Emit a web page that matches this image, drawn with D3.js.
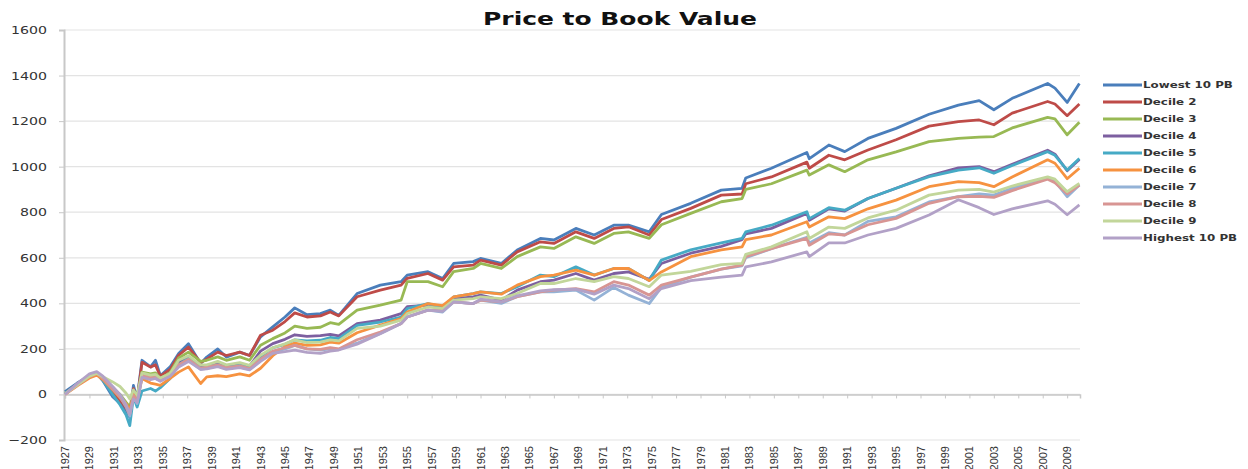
<!DOCTYPE html>
<html>
<head>
<meta charset="utf-8">
<script src="https://cdn.jsdelivr.net/npm/d3@7"></script>
<style>
  body { margin: 0; background: #fff; }
  svg { display: block; }
</style>
</head>
<body>
<script>
'use strict';
// chart values (decimal years)
const years = [1927.0, 1928.0, 1929.0, 1929.6, 1930.1, 1930.9, 1931.5, 1932.0, 1932.3, 1932.6, 1932.9, 1933.3,
  1934.0, 1934.4, 1934.8, 1935.6, 1936.3, 1937.1, 1938.1, 1938.6, 1939.5, 1940.2, 1941.3, 1942.1, 1943.0,
  1944.0, 1945.0, 1945.8, 1946.8, 1947.9, 1948.7, 1949.4, 1950.9, 1952.8, 1954.5, 1955.0, 1956.7, 1957.9,
  1958.8, 1960.4, 1961.0, 1962.7, 1964.0, 1965.9, 1967.0, 1968.8, 1970.3, 1971.9, 1973.1, 1974.8, 1975.8,
  1978.2, 1980.7, 1982.4, 1982.7, 1984.8, 1987.7, 1987.9, 1989.5, 1990.8, 1992.7, 1995.0, 1997.7, 2000.1,
  2001.8, 2003.0, 2004.5, 2007.4, 2008.0, 2009.0, 2010.0];

const lowest10 = [12,50,82,92,60,-10,-40,-70,-100,40,-20,150,121,150,82,121,180,223,136,164,200,164,186,171,253,297,340,380,350,355,370,347,443,480,495,524,539,509,575,583,597,575,634,685,678,729,700,743,743,714,790,839,897,905,950,993,1062,1035,1095,1066,1124,1168,1230,1270,1290,1250,1300,1365,1345,1282,1365];
const decile2 = [5,45,80,92,65,10,-25,-60,-90,25,-25,141,120,130,80,110,172,208,140,155,186,171,186,171,260,282,320,358,340,345,362,345,429,458,480,510,531,502,560,568,590,568,626,670,663,714,685,729,736,700,768,817,875,880,925,955,1020,993,1050,1030,1073,1118,1178,1198,1205,1184,1235,1286,1275,1224,1275];
const decile3 = [5,42,78,90,70,25,0,-35,-55,15,-15,98,90,95,70,95,160,186,145,150,165,150,165,150,216,245,270,300,290,295,315,308,370,392,414,495,495,473,539,553,575,553,605,648,641,692,663,707,714,685,745,795,846,860,900,925,985,963,1008,978,1030,1065,1110,1124,1130,1132,1170,1216,1210,1140,1195];
const decile4 = [3,45,82,95,72,20,-10,-45,-80,10,-30,90,80,85,65,88,140,164,125,125,140,125,135,125,190,223,242,262,255,258,264,257,311,326,355,385,392,375,420,428,436,414,458,495,502,531,502,531,538,505,575,620,650,680,705,729,795,765,815,805,860,905,960,995,1000,978,1010,1072,1055,982,1032];
const decile5 = [5,45,80,92,62,0,-45,-90,-137,-10,-55,15,26,15,30,70,130,160,115,118,130,118,128,118,165,205,220,240,235,238,250,245,303,318,340,377,399,384,428,443,450,443,473,524,517,560,524,553,553,500,590,635,665,685,714,743,802,772,820,809,860,905,956,985,995,971,1005,1066,1050,985,1036];
const decile6 = [0,38,72,85,65,20,-15,-40,-70,0,-30,70,50,45,40,70,98,121,48,77,82,78,90,82,115,170,210,225,215,218,230,225,271,304,333,362,399,390,428,443,450,440,480,517,524,546,524,553,553,500,538,605,635,648,680,700,758,735,780,772,815,853,912,934,930,912,955,1030,1015,947,993];
const decile7 = [2,45,82,95,72,25,-10,-55,-95,-10,-40,80,70,70,60,82,125,150,110,115,125,115,120,110,150,185,200,215,200,195,200,198,225,268,311,340,370,362,406,399,414,400,429,450,450,458,414,470,436,399,470,515,550,565,600,640,690,665,710,700,760,780,845,868,880,875,905,950,935,868,920];
const decile8 = [0,40,78,92,70,25,-10,-50,-85,-5,-30,85,75,75,62,85,130,155,115,120,130,118,125,115,155,190,205,215,200,198,205,200,240,274,311,340,370,370,406,399,414,406,429,450,458,465,450,495,480,436,480,515,550,568,605,640,685,655,705,700,745,773,839,868,870,865,895,945,930,881,919];
const decile9 = [2,42,80,93,78,55,35,5,-20,20,-5,95,85,88,72,92,150,170,130,130,145,130,140,128,172,205,222,240,228,230,240,235,290,300,326,355,384,377,414,421,428,421,443,487,487,509,495,517,509,473,524,540,570,575,615,648,714,685,735,729,775,809,875,897,900,888,915,955,945,890,927];
const highest10 = [0,48,90,100,80,35,0,-45,-85,-20,-35,75,65,70,58,80,120,145,110,112,122,110,118,108,145,180,188,195,185,180,190,195,221,267,311,340,370,365,406,399,418,406,433,455,460,462,440,480,465,420,465,500,515,524,560,582,626,605,665,665,700,729,788,855,820,790,815,850,835,789,832];

const seriesNames = ['Lowest 10 PB', 'Decile 2', 'Decile 3', 'Decile 4', 'Decile 5',
  'Decile 6', 'Decile 7', 'Decile 8', 'Decile 9', 'Highest 10 PB'];
const seriesValues = [lowest10, decile2, decile3, decile4, decile5, decile6, decile7, decile8, decile9, highest10];
const colors = ['#4a7ebb', '#be4b48', '#98b954', '#7d5fa0', '#46aac5', '#f69240',
  '#94b2d6', '#d89593', '#c2d69a', '#b2a1c7'];
const yTicks = [-200, 0, 200, 400, 600, 800, 1000, 1200, 1400, 1600];
const xLabels = d3.range(1927, 2010, 2);

(function () {
  const width = 1248, height = 469;
  const plotLeft = 65, plotRight = 1080, plotTop = 30, plotBottom = 440;
  const fontWide = 'DejaVu Sans, Verdana, sans-serif';

  const svg = d3.select('body').append('svg')
    .attr('width', width)
    .attr('height', height);

  const x = d3.scaleLinear().domain([1927, 2010.05]).range([plotLeft, plotRight]);
  const y = d3.scaleLinear().domain([-200, 1600]).range([plotBottom, plotTop]);

  // gridlines
  svg.append('g')
    .selectAll('line')
    .data(yTicks)
    .join('line')
    .attr('x1', plotLeft - 1).attr('x2', plotRight)
    .attr('y1', d => y(d)).attr('y2', d => y(d))
    .attr('stroke', '#e3e3e3')
    .attr('stroke-width', 1.2);

  // y axis
  const yAxis = svg.append('g')
    .attr('transform', `translate(${plotLeft - 1},0)`)
    .call(d3.axisLeft(y).tickValues(yTicks).tickSize(5).tickPadding(10).tickFormat(d3.format('d')));
  yAxis.select('.domain').attr('stroke', '#c8c8c8').attr('stroke-width', 2);
  yAxis.selectAll('.tick line').attr('stroke', '#c8c8c8');
  const yText = yAxis.selectAll('text')
    .attr('font-family', fontWide)
    .attr('font-size', 11)
    .attr('fill', '#333');
  // the source is stretched sideways: "1600" is about 36px wide there
  const yTop = yText.filter(d => d === 1600);
  const ky = 36 / yTop.node().getComputedTextLength();
  yText.attr('x', 0).attr('transform', `translate(-17,0) scale(${ky},1)`);

  // category axis crossing at zero (ticks only)
  const xAxis = svg.append('g')
    .attr('transform', `translate(0,${y(0)})`)
    .call(d3.axisBottom(x).tickValues(xLabels).tickSize(4).tickFormat(''));
  xAxis.select('.domain').attr('stroke', '#c8c8c8').attr('stroke-width', 1.5);
  xAxis.selectAll('.tick line').attr('stroke', '#c8c8c8');

  // rotated year labels under the plot
  svg.append('g')
    .selectAll('text')
    .data(xLabels)
    .join('text')
    .attr('transform', d => `translate(${x(d) + 4},446) rotate(-90)`)
    .attr('text-anchor', 'end')
    .attr('font-family', 'Liberation Sans Narrow, Arial Narrow, sans-serif')
    .attr('font-size', 11)
    .attr('fill', '#333')
    .text(d => d);

  // series lines
  const line = d3.line()
    .x((d, i) => x(years[i]))
    .y(d => y(d));

  svg.append('g')
    .selectAll('path')
    .data(seriesValues)
    .join('path')
    .attr('d', d => line(d))
    .attr('fill', 'none')
    .attr('stroke', (d, i) => colors[i])
    .attr('stroke-width', 2.8)
    .attr('stroke-linejoin', 'round');

  // title
  const title = svg.append('text')
    .attr('y', 25)
    .attr('text-anchor', 'middle')
    .attr('font-family', fontWide)
    .attr('font-weight', 'bold')
    .attr('font-size', 18)
    .attr('fill', '#111')
    .text('Price to Book Value');
  const kt = 274 / title.node().getComputedTextLength();
  title.attr('transform', `translate(620,0) scale(${kt},1)`);

  // legend
  const legend = svg.append('g')
    .selectAll('g')
    .data(seriesNames)
    .join('g')
    .attr('transform', (d, i) => `translate(1103,${85 + i * 17})`);

  legend.append('line')
    .attr('x1', 0).attr('x2', 39)
    .attr('stroke', (d, i) => colors[i])
    .attr('stroke-width', 2.8);

  const legText = legend.append('text')
    .attr('dy', '0.35em')
    .attr('font-family', fontWide)
    .attr('font-weight', 'bold')
    .attr('font-size', 9)
    .attr('fill', '#333')
    .text(d => d);
  const kl = 90 / legText.node().getComputedTextLength();
  legText.attr('transform', `translate(40,0) scale(${kl},1)`);
})();
</script>
</body>
</html>
